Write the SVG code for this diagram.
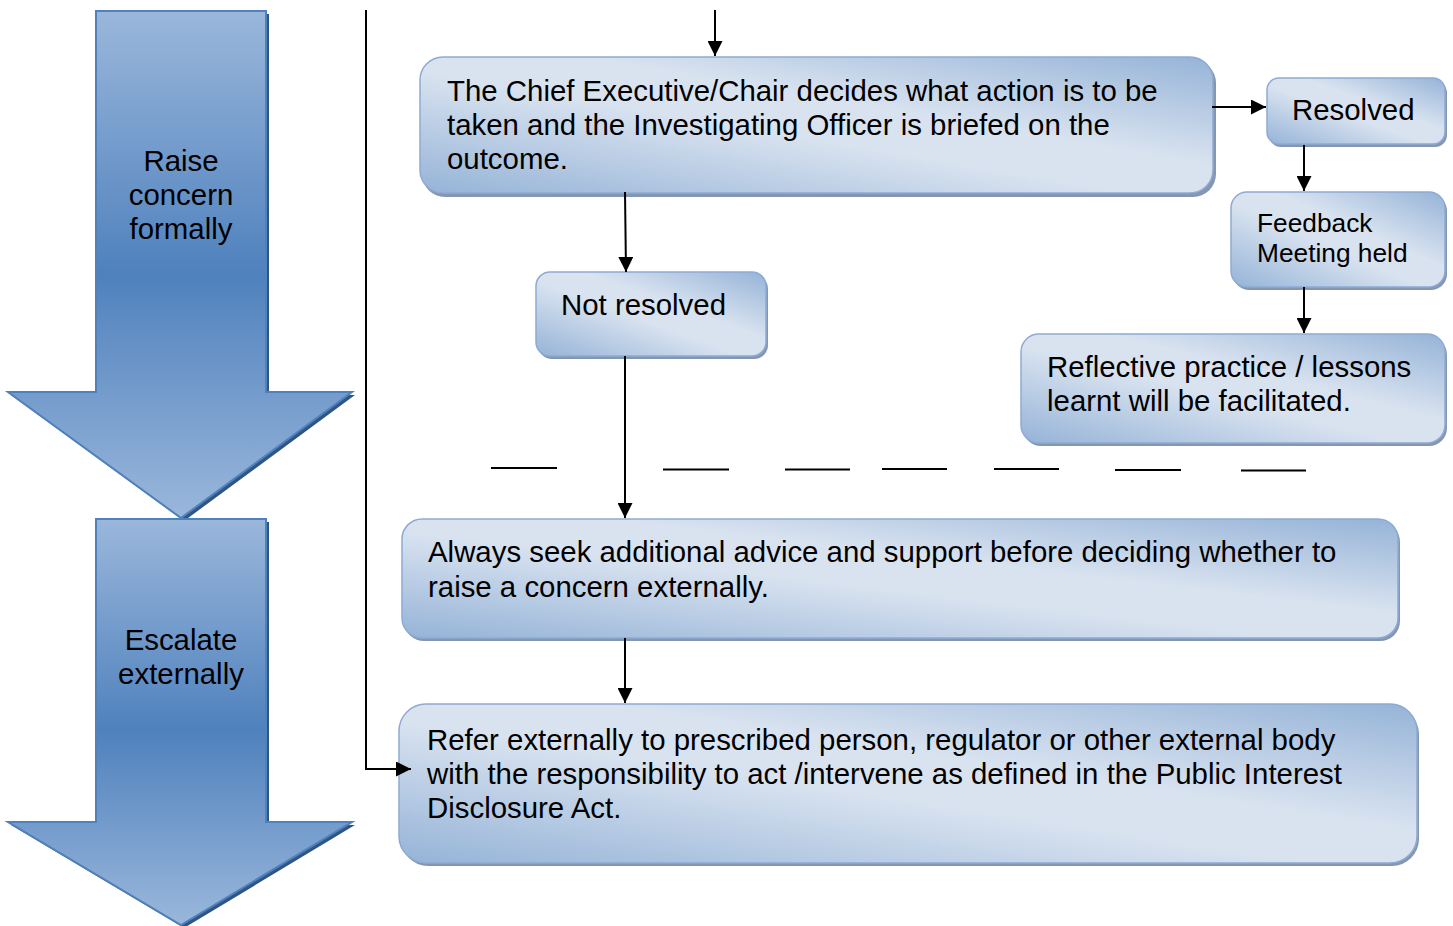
<svg xmlns="http://www.w3.org/2000/svg" width="1453" height="926" viewBox="0 0 1453 926">
<defs>
<linearGradient id="boxg" x1="0" y1="1" x2="1" y2="0">
<stop offset="0" stop-color="#95b3d7"/>
<stop offset="0.45" stop-color="#d9e3f0"/>
<stop offset="0.6" stop-color="#d9e3f0"/>
<stop offset="1" stop-color="#95b3d7"/>
</linearGradient>
<linearGradient id="arrg" x1="0" y1="0" x2="0" y2="1">
<stop offset="0" stop-color="#9ab7db"/>
<stop offset="0.52" stop-color="#4f81bd"/>
<stop offset="1" stop-color="#9ab7db"/>
</linearGradient>
<marker id="ah" viewBox="0 0 10 10" refX="10" refY="5" markerWidth="15" markerHeight="15" markerUnits="userSpaceOnUse" orient="auto">
<path d="M0,0 L10,5 L0,10 z" fill="#000"/>
</marker>
</defs>
<style>
.box{fill:url(#boxg);stroke:#8eaad4;stroke-width:1.5}
.sh{fill:#8597b0}
.t{font-family:"Liberation Sans",Arial,sans-serif;font-size:29.4px;fill:#000}
.ts{font-family:"Liberation Sans",Arial,sans-serif;font-size:26.3px;fill:#000}
.arr{fill:url(#arrg);stroke:#4f81bd;stroke-width:2}
.arsh{fill:#2f5584}
.c{stroke:#000;stroke-width:2;fill:none}
.d{stroke:#000;stroke-width:2}
</style>
<rect width="1453" height="926" fill="#fff"/>

<g id="arrow-raise">
<polygon class="arsh" points="99,14 269,14 269,395 355,395 184,521 11,395 99,395"/>
<polygon class="arr" points="96,11 266,11 266,392 352,392 181,518 8,392 96,392"/>
<text class="t" x="181" y="171" text-anchor="middle">Raise</text>
<text class="t" x="181" y="205" text-anchor="middle">concern</text>
<text class="t" x="181" y="239" text-anchor="middle">formally</text>
</g>

<g id="arrow-escalate">
<polygon class="arsh" points="99,522 269,522 269,825 355,825 184,928 11,825 99,825"/>
<polygon class="arr" points="96,519 266,519 266,822 352,822 181,925 8,822 96,822"/>
<text class="t" x="181" y="650" text-anchor="middle">Escalate</text>
<text class="t" x="181" y="684" text-anchor="middle">externally</text>
</g>

<g id="node-chief">
<rect class="sh" x="422" y="60" width="794" height="137" rx="23"/>
<rect class="box" x="420" y="57" width="793" height="136" rx="23"/>
<text class="t" x="447" y="101">The Chief Executive/Chair decides what action is to be</text>
<text class="t" x="447" y="135">taken and the Investigating Officer is briefed on the</text>
<text class="t" x="447" y="169">outcome.</text>
</g>

<g id="node-resolved">
<rect class="sh" x="1269" y="81" width="178" height="66" rx="12"/>
<rect class="box" x="1267" y="78" width="178" height="66" rx="12"/>
<text class="t" x="1292" y="120">Resolved</text>
</g>

<g id="node-feedback">
<rect class="sh" x="1233" y="195" width="214" height="95" rx="16"/>
<rect class="box" x="1231" y="192" width="214" height="95" rx="16"/>
<text class="ts" x="1257" y="232">Feedback</text>
<text class="ts" x="1257" y="262">Meeting held</text>
</g>

<g id="node-notresolved">
<rect class="sh" x="538" y="275" width="230" height="84" rx="14"/>
<rect class="box" x="536" y="272" width="230" height="84" rx="14"/>
<text class="t" x="561" y="315">Not resolved</text>
</g>

<g id="node-reflective">
<rect class="sh" x="1023" y="337" width="424" height="109" rx="18"/>
<rect class="box" x="1021" y="334" width="424" height="109" rx="18"/>
<text class="t" x="1047" y="377">Reflective practice / lessons</text>
<text class="t" x="1047" y="411">learnt will be facilitated.</text>
</g>

<g id="node-always">
<rect class="sh" x="404" y="522" width="996" height="119" rx="20"/>
<rect class="box" x="402" y="519" width="996" height="119" rx="20"/>
<text class="t" x="428" y="562">Always seek additional advice and support before deciding whether to</text>
<text class="t" x="428" y="597">raise a concern externally.</text>
</g>

<g id="node-refer">
<rect class="sh" x="401" y="707" width="1018" height="159" rx="27"/>
<rect class="box" x="399" y="704" width="1018" height="159" rx="27"/>
<text class="t" x="427" y="750">Refer externally to prescribed person, regulator or other external body</text>
<text class="t" x="427" y="784">with the responsibility to act /intervene as defined in the Public Interest</text>
<text class="t" x="427" y="818">Disclosure Act.</text>
</g>

<g id="connectors">
<path class="c" d="M715,10 L715,56" marker-end="url(#ah)"/>
<path class="c" d="M1212,107 L1266,107" marker-end="url(#ah)"/>
<path class="c" d="M1304,145 L1304,191" marker-end="url(#ah)"/>
<path class="c" d="M1304,287 L1304,333" marker-end="url(#ah)"/>
<path class="c" d="M625,192 L626,272" marker-end="url(#ah)"/>
<path class="c" d="M625,356 L625,518" marker-end="url(#ah)"/>
<path class="c" d="M625,638 L625,703" marker-end="url(#ah)"/>
<path class="c" d="M366,10 L366,769 L411,769" marker-end="url(#ah)"/>
<line class="d" x1="491" y1="468" x2="557" y2="468"/>
<line class="d" x1="663" y1="469.5" x2="729" y2="469.5"/>
<line class="d" x1="785" y1="469.5" x2="850" y2="469.5"/>
<line class="d" x1="882" y1="469" x2="947" y2="469"/>
<line class="d" x1="994" y1="469" x2="1059" y2="469"/>
<line class="d" x1="1115" y1="470" x2="1181" y2="470"/>
<line class="d" x1="1241" y1="470.5" x2="1306" y2="470.5"/>
</g>
</svg>
